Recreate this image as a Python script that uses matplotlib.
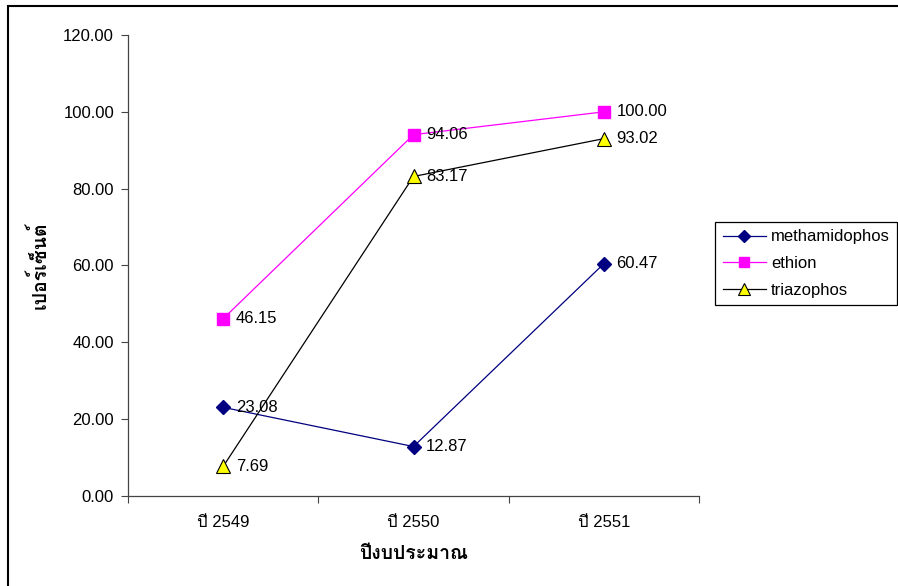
import matplotlib
matplotlib.use("Agg")
import matplotlib.pyplot as plt
from matplotlib.patches import Rectangle
import numpy as np

plt.rcParams['font.family'] = ['Liberation Sans', 'Loma', 'Noto Sans Thai Looped']
plt.rcParams['font.size'] = 12

years = ['ปี 2549', 'ปี 2550', 'ปี 2551']
methamidophos = [23.08, 12.87, 60.47]
ethion = [46.15, 94.06, 100.00]
triazophos = [7.69, 83.17, 93.02]

x = np.arange(len(years))

fig = plt.figure(figsize=(8.98, 5.86), dpi=100)
ax = fig.add_axes([128/898, 90/586, 571/898, 461/586])

# outer chart border (only left/top visible in the crop)
fig.patches.append(Rectangle((8/898, -0.1), 1.2, 1.1 - 6/586, transform=fig.transFigure,
                             fill=False, edgecolor='black', linewidth=1.5))

ax.plot(x, methamidophos, '-', color='#000080', linewidth=0.9, marker='D', markersize=7,
        markerfacecolor='#000080', markeredgecolor='#000080', label='methamidophos')
ax.plot(x, ethion, '-', color='#FF00FF', linewidth=0.9, marker='s', markersize=8.5,
        markerfacecolor='#FF00FF', markeredgecolor='#FF00FF', label='ethion')
ax.plot(x, triazophos, '-', color='black', linewidth=0.9, marker='^', markersize=10,
        markerfacecolor='#FFFF00', markeredgecolor='black', markeredgewidth=0.8, label='triazophos')

for series in (methamidophos, ethion, triazophos):
    for xi, v in zip(x, series):
        ax.annotate(f'{v:.2f}', (xi, v), xytext=(9, 0), textcoords='offset points',
                    ha='left', va='center')

ax.set_xlim(-0.5, 2.5)
ax.set_ylim(0, 120)
ax.set_yticks(np.arange(0, 121, 20))
ax.set_yticklabels([f'{v:.2f}' for v in np.arange(0, 121, 20)])
ax.set_xticks([-0.5, 0.5, 1.5, 2.5])
ax.set_xticklabels([])
ax.set_xticks(x, minor=True)
ax.set_xticklabels(years, minor=True)
ax.tick_params(axis='x', which='minor', length=0, pad=14)
ax.tick_params(axis='both', which='major', length=5, width=0.8, color='#444444')
ax.tick_params(axis='y', pad=5)

for s in ('top', 'right'):
    ax.spines[s].set_visible(False)
for s in ('left', 'bottom'):
    ax.spines[s].set_color('#444444')
    ax.spines[s].set_linewidth(0.9)

ax.set_xlabel('ปีงบประมาณ', fontweight='bold', fontsize=14, labelpad=11)
ax.set_ylabel('เปอร์เซ็นต์', fontweight='bold', fontsize=14, labelpad=10)

leg = fig.legend(loc='upper left', bbox_to_anchor=(715/898, 1 - 222/586), frameon=True,
                 fancybox=False, edgecolor='black', framealpha=1, handlelength=2.6,
                 markerscale=0.9, borderpad=0.45, labelspacing=0.7, handletextpad=0.3,
                 borderaxespad=0)
leg.get_frame().set_linewidth(0.9)

fig.savefig('out.png', dpi=100)
